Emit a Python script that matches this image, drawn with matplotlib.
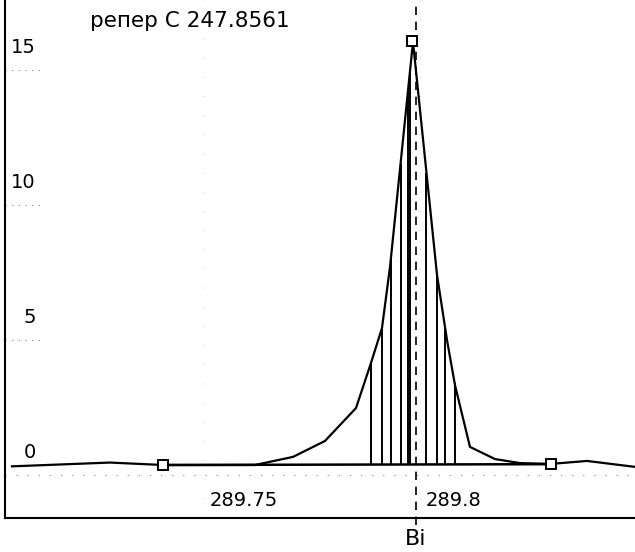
import matplotlib
matplotlib.use("Agg")
import matplotlib.pyplot as plt
import numpy as np

plt.rcParams['font.family'] = ['DejaVu Sans']

# spectrum profile around the Bi line
wavelength = [289.70556, 289.72824, 289.74051, 289.76181, 289.77060, 289.77801,
              289.78519, 289.78866, 289.79120, 289.79306, 289.79838, 289.80394,
              289.80625, 289.80810, 289.81157, 289.81736, 289.82315, 289.83032,
              289.83866, 289.84977]
intensity = [0.32, 0.46, 0.37, 0.37, 0.67, 1.26, 2.48, 4.15, 5.44, 7.70, 16.04,
             7.41, 5.00, 3.33, 1.04, 0.59, 0.44, 0.41, 0.52, 0.30]

# integration window: background points and peak marker
bg_x = [289.74051, 289.83032]
bg_y = [0.37, 0.40]
peak_x = 289.79810
peak_y = 16.07

# channels summed under the peak
hatch_x = [289.7886, 289.7887, 289.7911, 289.7933, 289.7955, 289.7972,
           289.7977, 289.8015, 289.8039, 289.8058, 289.8080]

bi_line = 289.7991
x_ticks = [289.75, 289.8]
x_labels = ['289.75', '289.8']
y_ticks = [0, 5, 10, 15]
title = 'репер C 247.8561'

fig = plt.figure(figsize=(6.35, 5.52), dpi=100)
ax = fig.add_axes([5 / 635, 34 / 552, 630 / 635, 518 / 552])
ax.set_xlim(289.70394, 289.84977)
ax.set_ylim(-1.593, 17.59)

for s in ['top', 'right']:
    ax.spines[s].set_visible(False)
for s in ['left', 'bottom']:
    ax.spines[s].set_linewidth(1.5)
ax.set_xticks([])
ax.set_yticks([])

# sparse dotted grid
ax.axhline(0, color='#888888', lw=0.8, ls=(0, (1, 9)))
for t in x_ticks:
    ax.axvline(t, color='#bbbbbb', lw=0.6, ls=(0, (1, 22)))
for t in y_ticks[1:]:
    ax.plot([ax.get_xlim()[0], ax.get_xlim()[0] + 0.008], [t, t],
            color='#888888', lw=0.8, ls=(0, (1, 5)))

# profile and background line
ax.plot(wavelength, intensity, color='black', lw=1.6, zorder=3)
ax.plot(bg_x, bg_y, color='black', lw=1.8, zorder=3)

base = np.interp(hatch_x, bg_x, bg_y)
top = np.interp(hatch_x, wavelength, intensity)
ax.vlines(hatch_x, base, top, color='black', lw=1.4, zorder=3)

ax.plot(bg_x + [peak_x], bg_y + [peak_y], ls='none', marker='s', ms=7,
        mfc='white', mec='black', mew=1.4, zorder=5)

# analytical line marker
ax.plot([bi_line, bi_line], [-1.85, 17.4], color='black', lw=1.2,
        ls=(0, (5, 4)), clip_on=False, zorder=4)
ax.annotate('Bi', xy=(bi_line, 0), xycoords=('data', 'axes fraction'),
            xytext=(0, -15), textcoords='offset points', ha='center', va='center',
            fontsize=16, annotation_clip=False)

for t, lab in zip(x_ticks, x_labels):
    ax.annotate(lab, xy=(t, -0.93), xytext=(4, 0), textcoords='offset points',
                ha='left', va='center', fontsize=14)
for t in y_ticks:
    ax.annotate(str(t), xy=(0.049, t), xycoords=('axes fraction', 'data'),
                xytext=(0, 16), textcoords='offset points', ha='right', va='center',
                fontsize=14)

ax.text(0.135, 0.96, title, transform=ax.transAxes, ha='left', va='center',
        fontsize=15.5)

fig.savefig('out.png', dpi=100)
